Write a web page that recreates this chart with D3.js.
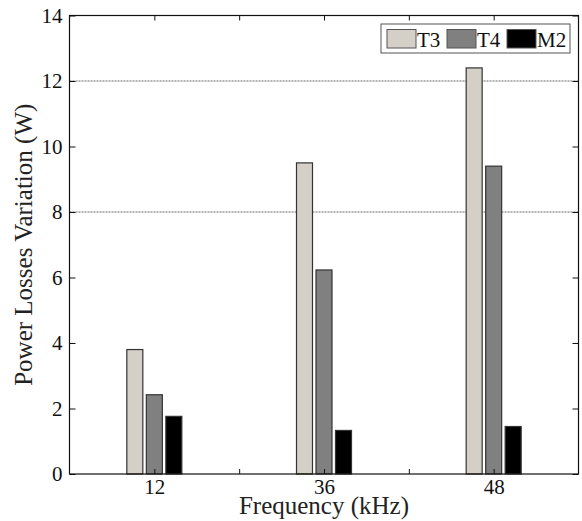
<!DOCTYPE html>
<html lang="en">
<head>
<meta charset="UTF-8">
<title>Power Losses Variation</title>
<script src="https://d3js.org/d3.v7.min.js"></script>
<style>
    body { margin: 0; background: #fff; }
    svg { display: block; }
    svg text { font-family: "Times New Roman", "Liberation Serif", Times, serif; }
</style>
</head>
<body>
<svg></svg>
<script>
// data
const categories = ["12", "", "36", "", "48"];
const series = ["T3", "T4", "M2"];
const t3 = [3.8, 0, 9.5, 0, 12.4];
const t4 = [2.42, 0, 6.23, 0, 9.4];
const m2 = [1.76, 0, 1.33, 0, 1.45];
const yTicks = [0, 2, 4, 6, 8, 10, 12, 14];
const refLines = [8, 12];
const colors = ["#d4d0c8", "#808080", "#000000"];

const width = 582, height = 521;
const margin = { top: 15.5, right: 3.5, bottom: 47, left: 69.5 };

const svg = d3.select("svg").attr("width", width).attr("height", height);

const x = d3.scaleLinear().domain([0, categories.length + 1])
    .range([margin.left, width - margin.right]);
const y = d3.scaleLinear().domain([0, 14])
    .range([height - margin.bottom, margin.top]);
const inner = d3.scaleBand().domain(series).range([-27.5, 27.5]).paddingInner(0.18);
const color = d3.scaleOrdinal().domain(series).range(colors);

const values = { T3: t3, T4: t4, M2: m2 };
const rows = [];
categories.forEach((c, i) => {
    series.forEach(s => rows.push({ pos: i + 1, key: s, value: values[s][i] }));
});

// dotted reference lines
svg.append("g").selectAll("line").data(refLines).join("line")
    .attr("x1", x.range()[0]).attr("x2", x.range()[1])
    .attr("y1", d => y(d)).attr("y2", d => y(d))
    .attr("stroke", "#6a6a6a").attr("stroke-width", 1.2)
    .attr("stroke-dasharray", "2,1");

// bars
svg.append("g").selectAll("rect").data(rows).join("rect")
    .attr("x", d => x(d.pos) + inner(d.key))
    .attr("y", d => y(d.value))
    .attr("width", inner.bandwidth())
    .attr("height", d => y(0) - y(d.value))
    .attr("fill", d => color(d.key))
    .attr("stroke", d => d.value === 0 ? "#c8c8c8" : "#333")
    .attr("stroke-width", 1.2);

// axes
const tickNums = d3.range(1, categories.length + 1);
svg.append("g")
    .attr("transform", `translate(0,${y(0)})`)
    .call(d3.axisBottom(x).tickValues(tickNums).tickSize(-5).tickSizeOuter(0).tickPadding(5)
        .tickFormat(d => categories[d - 1]));
svg.append("g")
    .attr("transform", `translate(${x(0)},0)`)
    .call(d3.axisLeft(y).tickValues(yTicks).tickSize(-6).tickSizeOuter(0).tickPadding(7)
        .tickFormat(d3.format("d")));
svg.append("g")
    .attr("transform", `translate(${x.range()[1]},0)`)
    .call(d3.axisRight(y).tickValues(yTicks).tickSize(-6).tickSizeOuter(0).tickFormat(""));
svg.append("g")
    .attr("transform", `translate(0,${y(14)})`)
    .call(d3.axisTop(x).tickValues(tickNums).tickSize(-5).tickSizeOuter(0).tickFormat(""));

svg.selectAll(".domain").remove();
svg.selectAll(".tick line").attr("stroke", "#111");
svg.selectAll(".tick text").attr("font-size", 21).attr("fill", "#111");

// frame
svg.append("rect")
    .attr("x", x.range()[0]).attr("y", y(14))
    .attr("width", x.range()[1] - x.range()[0])
    .attr("height", y(0) - y(14))
    .attr("fill", "none").attr("stroke", "#111").attr("stroke-width", 1.2);

// axis titles
svg.append("text")
    .attr("x", (x.range()[0] + x.range()[1]) / 2).attr("y", 514)
    .attr("text-anchor", "middle").attr("font-size", 25).attr("fill", "#222")
    .text("Frequency (kHz)");
svg.append("text")
    .attr("transform", `translate(32,${(y(0) + y(14)) / 2}) rotate(-90)`)
    .attr("text-anchor", "middle").attr("font-size", 25).attr("fill", "#222")
    .text("Power Losses Variation (W)");

// legend
const legend = svg.append("g").attr("transform", "translate(381,24)");
legend.append("rect").attr("width", 189).attr("height", 29)
    .attr("fill", "#fff").attr("stroke", "#555").attr("stroke-width", 1);
const item = legend.selectAll("g.item").data(series).join("g")
    .attr("class", "item")
    .attr("transform", (d, i) => `translate(${6 + i * 60},5.5)`);
item.append("rect").attr("width", 29).attr("height", 18.5)
    .attr("fill", d => color(d)).attr("stroke", "#555").attr("stroke-width", 1);
item.append("text").attr("x", 30).attr("y", 17)
    .attr("font-size", 21).attr("fill", "#111").text(d => d);
</script>
</body>
</html>
